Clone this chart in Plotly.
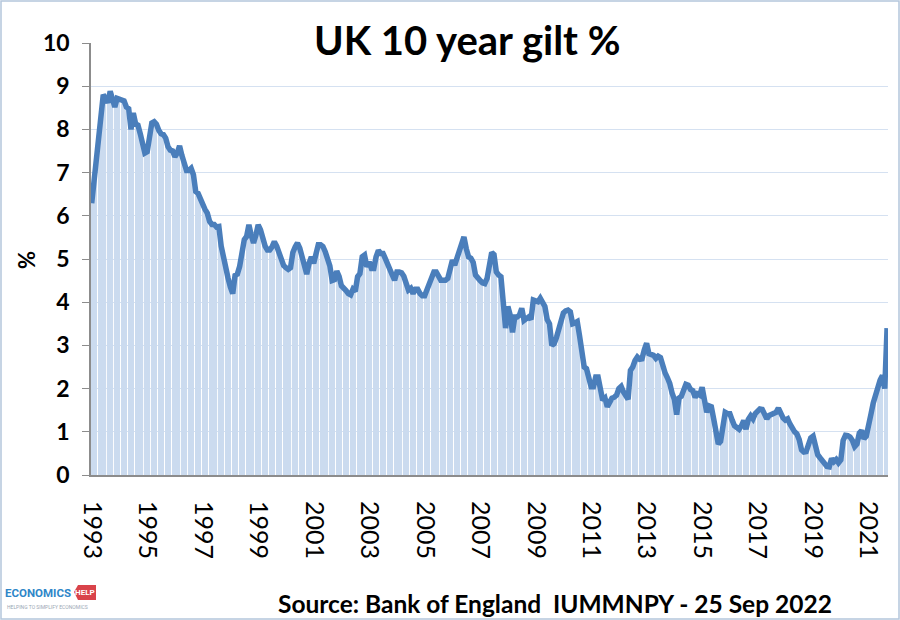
import plotly.graph_objects as go

# Monthly UK 10-year gilt yield (%), Jan 1994 .. Sep 2022
y1994 = [6.29, 6.85, 7.4, 7.85, 8.5, 8.8, 8.72, 8.62, 8.88, 8.72, 8.52, 8.72]
y1995 = [8.7, 8.68, 8.66, 8.52, 8.48, 8.0, 8.38, 8.13, 8.1, 7.9, 7.62, 7.45]
y1996 = [7.48, 7.85, 8.15, 8.18, 8.12, 7.98, 7.9, 7.88, 7.8, 7.6, 7.52, 7.5]
y1997 = [7.37, 7.45, 7.62, 7.4, 7.2, 7.05, 7.05, 7.1, 6.95, 6.56, 6.52, 6.4]
y1998 = [6.22, 6.15, 6.06, 5.87, 5.8, 5.8, 5.74, 5.75, 5.3, 5.0, 4.85, 4.55]
y1999 = [4.35, 4.2, 4.62, 4.65, 4.83, 5.17, 5.45, 5.52, 5.79, 5.55, 5.37, 5.55]
y2000 = [5.79, 5.68, 5.42, 5.3, 5.21, 5.21, 5.28, 5.4, 5.3, 5.12, 4.96, 4.85]
y2001 = [4.8, 4.76, 4.8, 5.15, 5.28, 5.37, 5.25, 5.05, 4.95, 4.65, 4.9, 5.05]
y2002 = [4.9, 5.1, 5.33, 5.33, 5.29, 5.17, 4.98, 4.84, 4.5, 4.52, 4.72, 4.6]
y2003 = [4.38, 4.3, 4.27, 4.2, 4.17, 4.3, 4.25, 4.59, 4.66, 5.05, 5.09, 4.82]
y2004 = [4.93, 4.78, 4.78, 5.05, 5.2, 5.13, 5.13, 5.01, 4.86, 4.74, 4.63, 4.51]
y2005 = [4.7, 4.7, 4.68, 4.6, 4.39, 4.28, 4.32, 4.2, 4.3, 4.3, 4.2, 4.15]
y2006 = [4.15, 4.28, 4.45, 4.62, 4.7, 4.7, 4.6, 4.51, 4.51, 4.51, 4.55, 4.74]
y2007 = [4.97, 4.86, 5.01, 5.17, 5.4, 5.51, 5.24, 5.05, 5.02, 4.92, 4.63, 4.55]
y2008 = [4.5, 4.45, 4.43, 4.55, 4.93, 5.15, 5.1, 4.7, 4.63, 4.59, 4.0, 3.4]
y2009 = [3.9, 3.7, 3.3, 3.66, 3.66, 3.7, 3.86, 3.58, 3.62, 3.66, 3.6, 4.05]
y2010 = [4.03, 4.01, 4.09, 4.0, 3.9, 3.6, 3.5, 3.0, 3.04, 3.18, 3.35, 3.55]
y2011 = [3.75, 3.8, 3.82, 3.78, 3.5, 3.52, 3.55, 3.22, 2.9, 2.5, 2.46, 2.2]
y2012 = [2.04, 2.04, 2.27, 2.27, 1.9, 1.73, 1.78, 1.58, 1.68, 1.78, 1.8, 1.85]
y2013 = [2.0, 2.05, 1.92, 1.85, 1.75, 2.42, 2.5, 2.65, 2.73, 2.68, 2.69, 2.9]
y2014 = [3.05, 2.81, 2.78, 2.77, 2.7, 2.75, 2.72, 2.52, 2.36, 2.25, 2.12, 1.9]
y2015 = [1.75, 1.4, 1.78, 1.82, 2.0, 2.1, 2.08, 1.98, 1.95, 1.8, 1.88, 1.85]
y2016 = [2.03, 1.65, 1.45, 1.6, 1.58, 1.3, 0.95, 0.72, 0.78, 1.1, 1.45, 1.42]
y2017 = [1.42, 1.27, 1.14, 1.1, 1.06, 1.14, 1.26, 1.06, 1.29, 1.37, 1.3, 1.42]
y2018 = [1.5, 1.53, 1.52, 1.41, 1.3, 1.38, 1.4, 1.41, 1.45, 1.55, 1.4, 1.32]
y2019 = [1.27, 1.3, 1.18, 1.08, 1.0, 0.95, 0.82, 0.58, 0.53, 0.54, 0.68, 0.86]
y2020 = [0.9, 0.6, 0.47, 0.4, 0.32, 0.26, 0.2, 0.19, 0.38, 0.31, 0.36, 0.28]
y2021 = [0.35, 0.8, 0.92, 0.91, 0.88, 0.8, 0.66, 0.72, 0.97, 1.03, 0.84, 0.9]
y2022 = [1.22, 1.4, 1.66, 1.87, 2.07, 2.2, 2.3, 2.0, 3.4]

yearly = [y1994, y1995, y1996, y1997, y1998, y1999, y2000, y2001, y2002, y2003,
          y2004, y2005, y2006, y2007, y2008, y2009, y2010, y2011, y2012, y2013,
          y2014, y2015, y2016, y2017, y2018, y2019, y2020, y2021, y2022]
values = [v for yr in yearly for v in yr]
months = list(range(len(values)))

# Tick labels as shown on the chart (one every 24 months)
tick_labels = ["1993", "1995", "1997", "1999", "2001", "2003", "2005", "2007",
               "2009", "2011", "2013", "2015", "2017", "2019", "2021"]
tick_positions = [24 * i for i in range(len(tick_labels))]

title_text = "UK 10 year gilt %"
source_text = "Source: Bank of England  IUMMNPY - 25 Sep 2022"

FONT = "Lato"

fig = go.Figure()
fig.add_trace(go.Bar(x=months, y=values, marker=dict(color="#cbdbef", line=dict(width=0)),
                     hoverinfo="skip", showlegend=False))
fig.add_trace(go.Scatter(x=months, y=values, mode="lines",
                         line=dict(color="#4a7ebb", width=5.5), showlegend=False))

L, R, T, B = 91, 12, 43, 145
W, H = 900, 620
pw, ph = W - L - R, H - T - B

def px(xp):
    return (xp - L) / pw

def py(yp):
    return (H - B - yp) / ph

fig.update_layout(
    width=W, height=H,
    margin=dict(l=L, r=R, t=T, b=B),
    paper_bgcolor="white", plot_bgcolor="white",
    bargap=0.5,
    font=dict(family=FONT, color="black"),
    xaxis=dict(range=[-0.3, len(values) - 0.6], tickmode="array",
               tickvals=tick_positions, ticktext=tick_labels, tickangle=90,
               tickfont=dict(size=25, family=FONT), showgrid=False,
               showline=True, linecolor="#8c8c8c", linewidth=2, ticks="",
               ticklabelstandoff=19, zeroline=False),
    yaxis=dict(range=[0, 10], dtick=1, tickfont=dict(size=23, family=FONT, weight="bold"),
               showgrid=True, gridcolor="#d5e1f1", gridwidth=1,
               showline=True, linecolor="#8c8c8c", linewidth=1.5,
               ticks="outside", ticklen=7, tickcolor="#8c8c8c",
               ticklabelstandoff=8, zeroline=False),
    annotations=[
        dict(text="<b>" + title_text + "</b>", x=px(467), y=py(40), xref="paper", yref="paper",
             showarrow=False, font=dict(size=40, family=FONT), xanchor="center", yanchor="middle"),
        dict(text="<b>%</b>", x=px(26), y=py(260), xref="paper", yref="paper", textangle=-90,
             showarrow=False, font=dict(size=22, family=FONT), xanchor="center", yanchor="middle"),
        dict(text="<b>" + source_text + "</b>", x=px(555), y=py(603), xref="paper", yref="paper",
             showarrow=False, font=dict(size=24.5, family=FONT), xanchor="center", yanchor="middle"),
        dict(text="<b>ECONOMICS</b>", x=px(3), y=py(593), xref="paper", yref="paper",
             showarrow=False, font=dict(size=11.5, family="Roboto", color="#2f86c8"),
             xanchor="left", yanchor="middle"),
        dict(text="<b>HELP</b>", x=px(85), y=py(592), xref="paper", yref="paper",
             showarrow=False, font=dict(size=8, family="Roboto", color="white"),
             xanchor="center", yanchor="middle"),
        dict(text="HELPING TO SIMPLIFY ECONOMICS", x=px(5), y=py(607), xref="paper", yref="paper",
             showarrow=False, font=dict(size=5, family="Roboto", color="#9aa7b4"),
             xanchor="left", yanchor="middle"),
    ],
    shapes=[
        dict(type="rect", xref="paper", yref="paper", x0=px(1), x1=px(899), y0=py(619), y1=py(1),
             line=dict(color="#b4c6dc", width=1.5), fillcolor="rgba(0,0,0,0)", layer="below"),
        dict(type="path", xref="paper", yref="paper",
             path=f"M {px(74)},{py(592)} L {px(78)},{py(585)} L {px(96)},{py(585)} "
                  f"L {px(96)},{py(600)} L {px(78)},{py(600)} Z",
             line=dict(width=0), fillcolor="#d9434a", layer="above"),
    ],
)

fig.write_html("out.html", config={"displayModeBar": False},
               post_script="document.body.style.margin='0';")
